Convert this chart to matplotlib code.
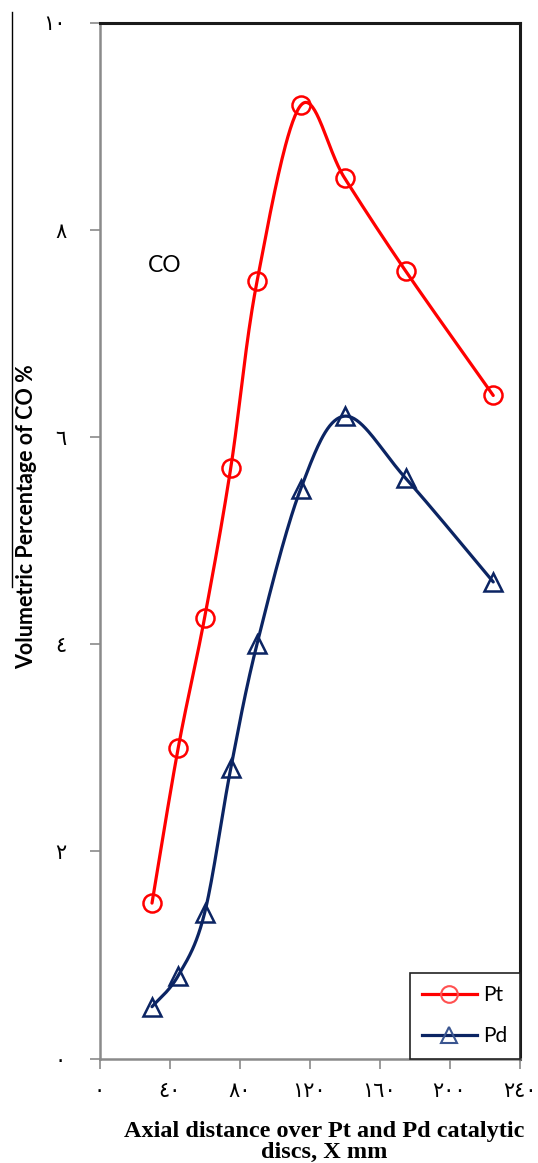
import numpy as np
import matplotlib
matplotlib.use("Agg")
import matplotlib.pyplot as plt
from matplotlib.lines import Line2D

# ---- data ----
x_mm = [30, 45, 60, 75, 90, 115, 140, 175, 225]
pt_co = [1.5, 3.0, 4.25, 5.7, 7.5, 9.2, 8.5, 7.6, 6.4]
pd_co = [0.5, 0.8, 1.4, 2.8, 4.0, 5.5, 6.2, 5.6, 4.6]
x_ticks = [0, 40, 80, 120, 160, 200, 240]
x_tick_labels = ["٠", "٤٠", "٨٠", "١٢٠", "١٦٠", "٢٠٠", "٢٤٠"]
y_ticks = [0, 2, 4, 6, 8, 10]
y_tick_labels = ["٠", "٢", "٤", "٦", "٨", "١٠"]

W, H = 538, 1163
fig = plt.figure(figsize=(W / 100, H / 100), dpi=100)
ax = fig.add_axes([99.5 / W, 1 - 1058.5 / H, (519.5 - 99.5) / W, (1058.5 - 22.5) / H])
ax.set_xlim(0, 240)
ax.set_ylim(0, 10)

RED = "#FF0000"
NAVY = "#0B2463"


def smooth(xs, ys, sx, sy, n=40):
    # Catmull-Rom style smoothing (like Excel's smoothed line), computed in pixel-like space
    P = np.column_stack([np.asarray(xs, float) * sx, np.asarray(ys, float) * sy])
    out = []
    for i in range(len(P) - 1):
        p0 = P[i - 1] if i > 0 else P[i]
        p1 = P[i]
        p2 = P[i + 1]
        p3 = P[i + 2] if i + 2 < len(P) else P[i + 1]
        c1 = p1 + (p2 - p0) / 6.0
        c2 = p2 - (p3 - p1) / 6.0
        t = np.linspace(0, 1, n)[:, None]
        seg = (1 - t) ** 3 * p1 + 3 * (1 - t) ** 2 * t * c1 + 3 * (1 - t) * t ** 2 * c2 + t ** 3 * p2
        out.append(seg if i == 0 else seg[1:])
    S = np.vstack(out)
    return S[:, 0] / sx, S[:, 1] / sy


sx, sy = 1.75, 103.6
for ys, col, mk, lab in [(pt_co, RED, "o", "Pt"), (pd_co, NAVY, "^", "Pd")]:
    cx, cy = smooth(x_mm, ys, sx, sy)
    ax.plot(cx, cy, color=col, lw=2.3, solid_capstyle="round", zorder=2)
    ax.plot(x_mm, ys, linestyle="none", marker=mk, ms=13, mfc="none", mec=col, mew=1.8, zorder=3)

# legend
handles = [
    Line2D([], [], color=RED, lw=2.3, marker="o", ms=12, mfc="none", mec="#FF5050", mew=1.5),
    Line2D([], [], color=NAVY, lw=2.3, marker="^", ms=12, mfc="none", mec="#3A5590", mew=1.5),
]
leg = ax.legend(handles, ["Pt", "Pd"], loc="lower right", frameon=True, fancybox=False,
                edgecolor="#222222", framealpha=1, borderaxespad=0, handlelength=2.6,
                handletextpad=0.3, labelspacing=1.0, borderpad=0.6,
                prop={"family": "Lato", "size": 15})
leg.get_frame().set_linewidth(1.2)

# spines
for s in ["left", "bottom"]:
    ax.spines[s].set_color("#8a8a8a")
    ax.spines[s].set_linewidth(1.8)
for s in ["top", "right"]:
    ax.spines[s].set_color("#1a1a1a")
    ax.spines[s].set_linewidth(2.2)

ax.set_xticks(x_ticks)
ax.set_xticklabels(x_tick_labels, family="DejaVu Sans", fontsize=15)
ax.set_yticks(y_ticks)
ax.set_yticklabels(y_tick_labels, family="DejaVu Sans", fontsize=15)
ax.tick_params(axis="both", direction="out", length=7, width=1.2, color="#8a8a8a")
ax.tick_params(axis="y", pad=17)
ax.tick_params(axis="x", pad=9)

ax.text(148 / W, 1 - 265 / H, "CO", transform=fig.transFigure, fontsize=16.5, family="Lato",
        va="center", ha="left")

fig.text(27 / W, 1 - 517 / H, "Volumetric Percentage of CO %", rotation=90, fontsize=15.5,
         family="Lato", fontweight="bold", ha="center", va="center")
fig.text(324 / W, 1 - 1142 / H, "Axial distance over Pt and Pd catalytic\ndiscs, X mm",
         fontsize=17.5, family="Liberation Serif", fontweight="bold", ha="center", va="center",
         linespacing=1.05)

fig.add_artist(Line2D([12 / W, 12 / W], [1 - 12 / H, 1 - 587 / H], color="black", lw=1.0,
                      transform=fig.transFigure))

fig.savefig("out.png", dpi=100)
